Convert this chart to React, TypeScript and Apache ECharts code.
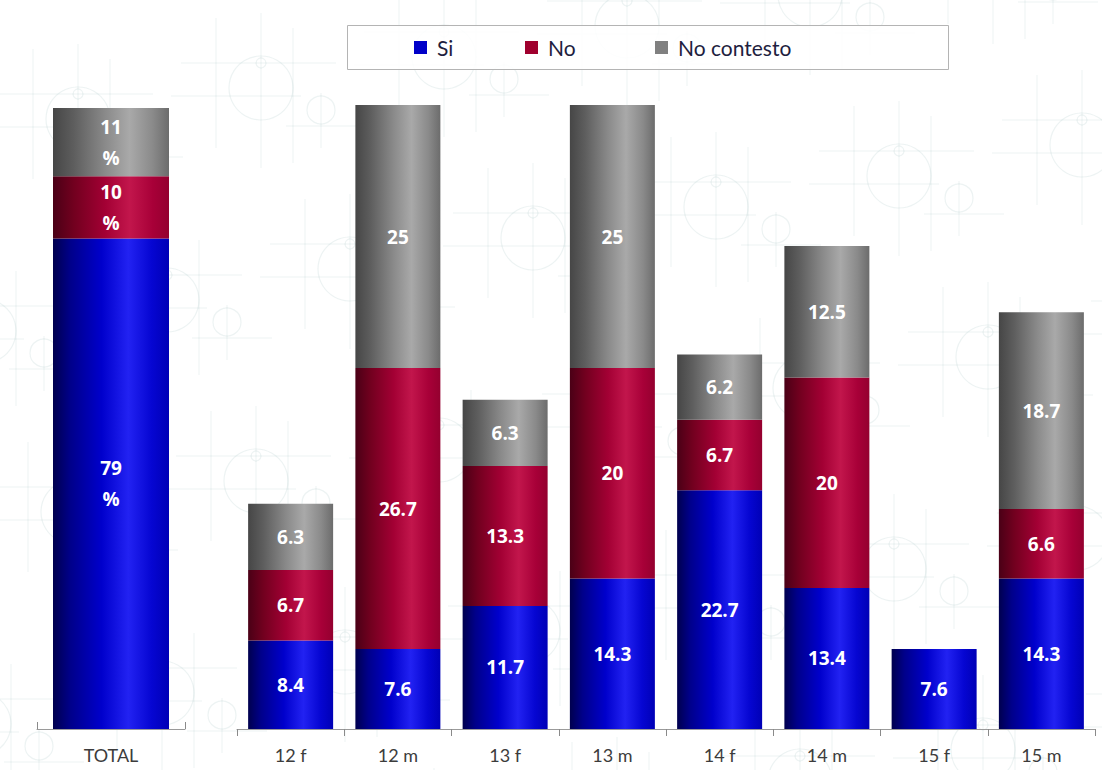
import React, { useEffect, useRef } from "react";
import * as echarts from "echarts";

const totalCategories = ["TOTAL"];
const totalSi = [79];
const totalNo = [10];
const totalNoContesto = [11];

const categories = ["12 f", "12 m", "13 f", "13 m", "14 f", "14 m", "15 f", "15 m"];
const si = [8.4, 7.6, 11.7, 14.3, 22.7, 13.4, 7.6, 14.3];
const no = [6.7, 26.7, 13.3, 20, 6.7, 20, null, 6.6];
const noContesto = [6.3, 25, 6.3, 25, 6.2, 12.5, null, 18.7];

const seriesNames = ["Si", "No", "No contesto"];
const legendColors = ["#0000c8", "#a0002e", "#808080"];

const grad = (stops: [number, string][]) => ({
  type: "linear",
  x: 0,
  y: 0,
  x2: 1,
  y2: 0,
  colorStops: stops.map(([offset, color]) => ({ offset, color })),
});

const fills = [
  grad([
    [0, "#00004e"],
    [0.15, "#00008a"],
    [0.42, "#0000cc"],
    [0.65, "#2222f2"],
    [0.85, "#0606d2"],
    [1, "#0000b6"],
  ]),
  grad([
    [0, "#4a0016"],
    [0.18, "#72001f"],
    [0.45, "#a30034"],
    [0.66, "#c2164c"],
    [0.86, "#a80038"],
    [1, "#94002f"],
  ]),
  grad([
    [0, "#464646"],
    [0.18, "#5e5e5e"],
    [0.45, "#8a8a8a"],
    [0.66, "#a9a9a9"],
    [0.86, "#8a8a8a"],
    [1, "#6c6c6c"],
  ]),
];

const WM = "rgba(140,180,180,0.16)";

function motif(cx: number, cy: number): any[] {
  const line = (x1: number, y1: number, x2: number, y2: number) => ({
    type: "line",
    silent: true,
    z: -10,
    shape: { x1, y1, x2, y2 },
    style: { stroke: WM, lineWidth: 1 },
  });
  const circ = (x: number, y: number, r: number) => ({
    type: "circle",
    silent: true,
    z: -10,
    shape: { cx: x, cy: y, r },
    style: { fill: "none", stroke: WM, lineWidth: 1.2 },
  });
  return [
    line(cx, cy - 75, cx, cy + 80),
    line(cx - 45, cy - 70, cx - 45, cy + 60),
    line(cx + 32, cy - 60, cx + 32, cy + 75),
    line(cx - 80, cy - 25, cx + 75, cy - 25),
    line(cx - 90, cy + 8, cx + 40, cy + 8),
    line(cx + 25, cy + 38, cx + 105, cy + 38),
    line(cx + 60, cy + 5, cx + 60, cy + 60),
    circ(cx, cy, 32),
    circ(cx, cy - 25, 5),
    circ(cx + 60, cy + 22, 14),
  ];
}

function buildWatermark(): any[] {
  const out: any[] = [];
  const p0 = [167, 300];
  const a = [183, -31];
  const b = [89, 181];
  for (let i = -6; i <= 10; i++) {
    for (let j = -3; j <= 5; j++) {
      const x = p0[0] + i * a[0] + j * b[0];
      const y = p0[1] + i * a[1] + j * b[1];
      if (x > -120 && x < 1220 && y > -60 && y < 860) out.push(...motif(x, y));
    }
  }
  return out;
}

export default function App() {
  const ref = useRef<HTMLDivElement>(null);

  useEffect(() => {
    if (!ref.current) return;
    const chart = echarts.init(ref.current, null, { renderer: "svg" });

    const axisCommon = {
      type: "category",
      axisLine: { show: true, lineStyle: { color: "#9a9a9a", width: 1 } },
      axisLabel: {
        margin: 17,
        fontSize: 18,
        color: "#3c3c3c",
        fontFamily: "Lato, 'Open Sans', sans-serif",
      },
      splitLine: { show: false },
    };

    const labelSmall = {
      show: true,
      position: "inside",
      color: "#ffffff",
      fontSize: 19,
      fontWeight: "bold",
      fontFamily: "'Open Sans', sans-serif",
      formatter: (p: any) => (p.value == null || p.value === 0 ? "" : String(p.value)),
    };
    const labelTotal = {
      show: true,
      position: "inside",
      color: "#ffffff",
      fontSize: 19,
      fontWeight: "bold",
      lineHeight: 31,
      fontFamily: "'Open Sans', sans-serif",
      formatter: (p: any) => `${p.value}\n%`,
    };

    const totalData = [totalSi, totalNo, totalNoContesto];
    const groupData = [si, no, noContesto];

    const series: any[] = [];
    seriesNames.forEach((name, k) => {
      series.push({
        name,
        type: "bar",
        stack: "total",
        xAxisIndex: 0,
        yAxisIndex: 0,
        barWidth: 116,
        data: totalData[k],
        itemStyle: { color: fills[k] },
        label: labelTotal,
      });
    });
    seriesNames.forEach((name, k) => {
      series.push({
        name,
        type: "bar",
        stack: "group",
        xAxisIndex: 1,
        yAxisIndex: 1,
        barWidth: 85,
        data: groupData[k],
        itemStyle: { color: fills[k] },
        label: labelSmall,
      });
    });

    const legendPos = [414, 525, 655];

    chart.setOption({
      animation: false,
      backgroundColor: "#ffffff",
      graphic: [
        ...buildWatermark(),
        {
          type: "rect",
          silent: true,
          z: 1,
          shape: { x: 347.5, y: 25.5, width: 601, height: 44 },
          style: { fill: "rgba(255,255,255,0.85)", stroke: "#b4b4b4", lineWidth: 1 },
        },
      ],
      legend: seriesNames.map((name, k) => ({
        data: [{ name, itemStyle: { color: legendColors[k] } }],
        left: legendPos[k],
        top: 37,
        padding: 0,
        icon: "rect",
        itemWidth: 13,
        itemHeight: 13,
        itemGap: 0,
        selectedMode: false,
        z: 5,
        textStyle: {
          fontSize: 21,
          color: "#1e1e40",
          fontFamily: "Lato, 'Open Sans', sans-serif",
          padding: [0, 0, 0, 5],
        },
      })),
      grid: [
        { left: 37, width: 148, top: 108, bottom: 41, containLabel: false },
        { left: 237, right: 7, top: 105, bottom: 41, containLabel: false },
      ],
      xAxis: [
        {
          ...axisCommon,
          gridIndex: 0,
          data: totalCategories,
          axisTick: { show: true, inside: true, length: 7, lineStyle: { color: "#8a8a8a" } },
        },
        {
          ...axisCommon,
          gridIndex: 1,
          data: categories,
          axisTick: { show: true, inside: false, length: 7, lineStyle: { color: "#8a8a8a" } },
        },
      ],
      yAxis: [
        { type: "value", gridIndex: 0, min: 0, max: 100, show: false },
        { type: "value", gridIndex: 1, min: 0, max: 59.3, show: false },
      ],
      series,
    });

    return () => chart.dispose();
  }, []);

  return (
    <div
      ref={ref}
      style={{ position: "fixed", left: 0, top: 0, width: 1102, height: 770 }}
    />
  );
}
